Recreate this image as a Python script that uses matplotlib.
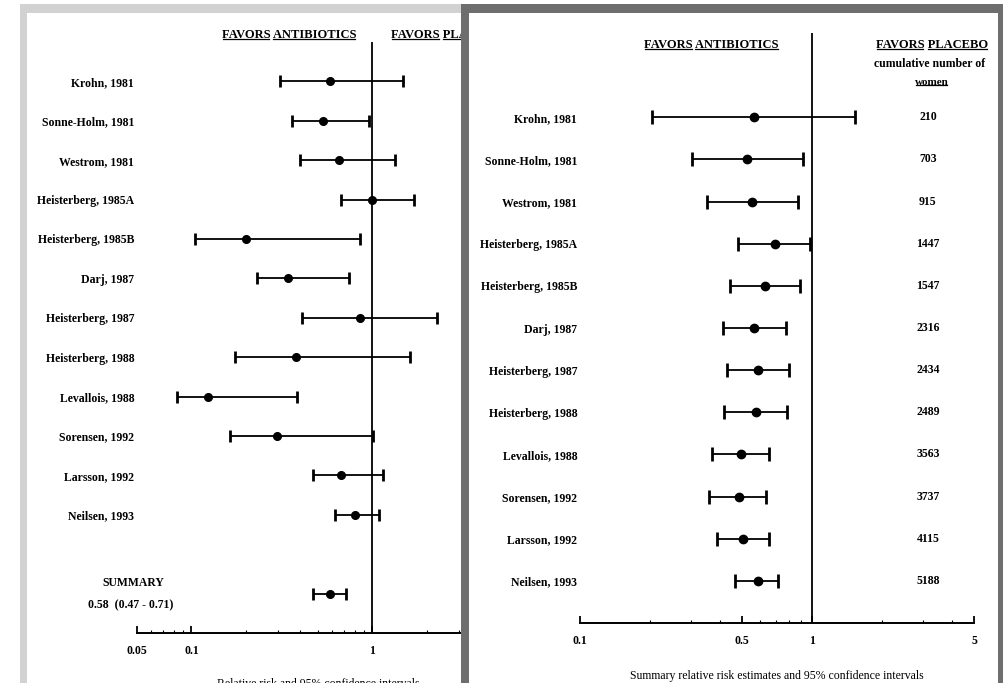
import matplotlib
matplotlib.use("Agg")
import matplotlib.pyplot as plt
from matplotlib.patches import Rectangle
from matplotlib.lines import Line2D
from matplotlib.ticker import LogLocator, NullFormatter

plt.rcParams['font.family'] = ['Liberation Serif', 'DejaVu Serif']
plt.rcParams['font.weight'] = 'bold'
plt.rcParams['font.size'] = 8.5

# studies, in the order they appear (top to bottom)
studies = ["Krohn, 1981", "Sonne-Holm, 1981", "Westrom, 1981", "Heisterberg, 1985A",
           "Heisterberg, 1985B", "Darj, 1987", "Heisterberg, 1987", "Heisterberg, 1988",
           "Levallois, 1988", "Sorensen, 1992", "Larsson, 1992", "Neilsen, 1993"]

# left panel: individual relative risks and 95% CI
rr_single = [0.58, 0.53, 0.65, 1.00, 0.20, 0.34, 0.85, 0.38, 0.124, 0.295, 0.67, 0.80]
lo_single = [0.31, 0.36, 0.40, 0.67, 0.105, 0.23, 0.41, 0.175, 0.083, 0.164, 0.47, 0.62]
hi_single = [1.48, 0.96, 1.34, 1.69, 0.85, 0.74, 2.26, 1.62, 0.385, 1.01, 1.14, 1.09]
summary_rr, summary_lo, summary_hi = 0.58, 0.47, 0.71

# right panel: cumulative relative risks and 95% CI
rr_cum = [0.56, 0.525, 0.55, 0.69, 0.63, 0.56, 0.585, 0.575, 0.495, 0.485, 0.505, 0.585]
lo_cum = [0.204, 0.304, 0.353, 0.48, 0.443, 0.413, 0.43, 0.417, 0.371, 0.36, 0.389, 0.466]
hi_cum = [1.53, 0.915, 0.87, 0.98, 0.888, 0.773, 0.796, 0.78, 0.653, 0.634, 0.653, 0.713]
n_women = [210, 703, 915, 1447, 1547, 2316, 2434, 2489, 3563, 3737, 4115, 5188]

left_ticks = [0.05, 0.1, 1]
left_ticklabels = ["0.05", "0.1", "1"]
right_ticks = [0.1, 0.5, 1, 5]
right_ticklabels = ["0.1", "0.5", "1", "5"]

W, H = 1004, 683
fig = plt.figure(figsize=(W / 100, H / 100), dpi=100)


def px_rect(x0, y0, x1, y1):
    # pixel box (from top-left) -> figure fraction [l, b, w, h]
    return [x0 / W, 1 - y1 / H, (x1 - x0) / W, (y1 - y0) / H]


def frame(x0, y0, x1, y1, color, z):
    l, b, w, h = px_rect(x0, y0, x1, y1)
    fig.add_artist(Rectangle((l, b), w, h, transform=fig.transFigure,
                             facecolor=color, edgecolor='none', zorder=z))


# scanned page frames: light grey for the left sheet, dark grey for the right one
frame(20, 4, 480, H, '#d2d2d2', -3)
frame(27, 13, 480, H, 'white', -2)
frame(461, 4, W, H, '#6e6e6e', 1)
frame(469, 13, 998, H, 'white', 1.1)


def forest(ax, x, lo, hi, ms, cap):
    rows = list(range(len(x)))
    xerr = [[v - l for v, l in zip(x, lo)], [h - v for v, h in zip(x, hi)]]
    ax.errorbar(x, rows, xerr=xerr, fmt='o', color='black', ms=ms,
                elinewidth=1.3, capsize=cap, capthick=2)


def style_axis(ax, pad):
    ax.set_xscale('log')
    for s in ['top', 'left', 'right']:
        ax.spines[s].set_visible(False)
    ax.spines['bottom'].set_linewidth(1.4)
    ax.set_facecolor('none')
    ax.tick_params(axis='x', which='major', direction='in', length=5, width=1.3, pad=pad)
    ax.tick_params(axis='x', which='minor', direction='in', length=2, width=0.8)
    ax.tick_params(axis='y', length=0, pad=2)
    ax.xaxis.set_minor_locator(LogLocator(base=10, subs=range(2, 10)))
    ax.xaxis.set_minor_formatter(NullFormatter())
    ax.axvline(1, color='black', lw=1.3)


# ---- left panel: individual trials ----
axL = fig.add_axes(px_rect(137, 42, 499, 633))
axL.set_zorder(0)
style_axis(axL, 9)
forest(axL, rr_single, lo_single, hi_single, ms=5.5, cap=4.5)
axL.errorbar([summary_rr], [13], xerr=[[summary_rr - summary_lo], [summary_hi - summary_rr]],
             fmt='o', color='black', ms=5.5, elinewidth=1.3, capsize=4.5, capthick=2)
axL.set_xlim(0.05, 5)
axL.set_ylim(14, -1)
axL.set_xticks(left_ticks, labels=left_ticklabels)
axL.set_yticks(range(len(studies)), labels=studies)
axL.set_xlabel("Relative risk and 95% confidence intervals", labelpad=15)
tr = axL.get_yaxis_transform()
axL.text(-0.011, 12.72, "SUMMARY", transform=tr, ha='center', va='center')
axL.text(-0.017, 13.3, "0.58  (0.47 - 0.71)", transform=tr, ha='center', va='center')
hdrL1 = axL.text(0.605, -1.18, "FAVORS ANTIBIOTICS", transform=tr, ha='right', va='center',
                 fontsize=9)
hdrL2 = axL.text(0.702, -1.18, "FAVORS PLACEBO", transform=tr, ha='left', va='center',
                 fontsize=9)

# ---- right panel: cumulative meta-analysis ----
axR = fig.add_axes(px_rect(580, 33, 974, 623))
axR.set_zorder(2)
style_axis(axR, 9)
forest(axR, rr_cum, lo_cum, hi_cum, ms=6, cap=5)
axR.set_xlim(0.1, 5)
axR.set_ylim(12, -2)
axR.set_xticks(right_ticks, labels=right_ticklabels)
axR.set_yticks(range(len(studies)), labels=studies)
axR.set_xlabel("Summary relative risk estimates and 95% confidence intervals", labelpad=16)
tr = axR.get_yaxis_transform()
for i, n in enumerate(n_women):
    axR.text(0.883, i, str(n), transform=tr, ha='center', va='center')
hdrR1 = axR.text(0.505, -1.72, "FAVORS ANTIBIOTICS", transform=tr, ha='right', va='center',
                 fontsize=9)
hdrR2 = axR.text(0.893, -1.72, "FAVORS PLACEBO", transform=tr, ha='center', va='center',
                 fontsize=9)
axR.text(0.887, -1.27, "cumulative number of", transform=tr, ha='center', va='center',
         fontsize=8.5)
hdrR3 = axR.text(0.892, -0.83, "women", transform=tr, ha='center', va='center',
                 fontsize=8)

# underline each word of the headings
fig.canvas.draw()
renderer = fig.canvas.get_renderer()


def text_width(s, fp):
    tmp = fig.text(0, 0, s, fontproperties=fp)
    w = tmp.get_window_extent(renderer).width
    tmp.remove()
    return w


def underline(t, z):
    bb = t.get_window_extent(renderer)
    s = t.get_text()
    fp = t.get_fontproperties()
    inv = fig.transFigure.inverted()
    pos = 0
    for word in s.split(' '):
        end = s.index(word, pos) + len(word)
        x1 = min(bb.x0 + text_width(s[:end], fp), bb.x1) - 1
        x0 = max(x1 - text_width(word, fp), bb.x0) + 1
        pos = end
        (a, y), (b, _) = inv.transform([(x0, bb.y0 + 1.5), (x1, bb.y0 + 1.5)])
        fig.add_artist(Line2D([a, b], [y, y], transform=fig.transFigure,
                              color='black', lw=0.9, zorder=z))


underline(hdrL1, 0.5)
underline(hdrL2, 0.5)
underline(hdrR1, 3)
underline(hdrR2, 3)
underline(hdrR3, 3)

fig.savefig("out.png", dpi=100)
